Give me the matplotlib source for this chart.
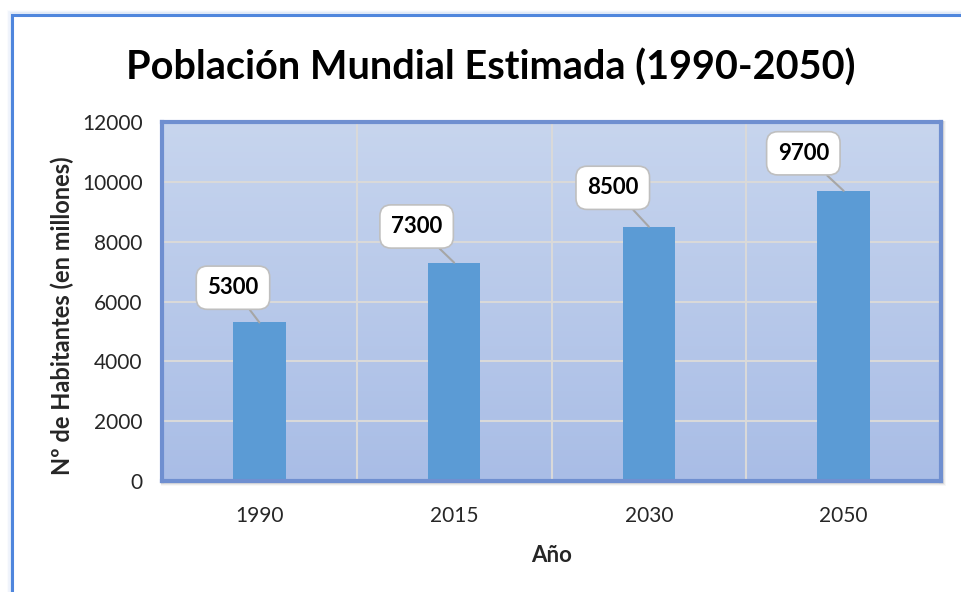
import matplotlib.pyplot as plt
import numpy as np
from matplotlib.patches import Rectangle
from matplotlib.colors import LinearSegmentedColormap

# Data
years = ['1990', '2015', '2030', '2050']
population = [5300, 7300, 8500, 9700]
y_ticks = [0, 2000, 4000, 6000, 8000, 10000, 12000]

# label box offsets in points (placement only)
label_offsets = [(-19, 25), (-27, 26), (-26, 28), (-29, 27)]

plt.rcParams['font.family'] = ['Lato', 'DejaVu Sans']

fig = plt.figure(figsize=(9.61, 5.92), dpi=100)
fig.patch.set_facecolor('white')

# outer chart border (blue line on left/top) with soft shadow
for i, a in enumerate([0.10, 0.06, 0.03]):
    off = (i + 1) * 1.5
    fig.patches.append(Rectangle(((12 - off)/961, -0.2), 1.2, (592 - 15 + off)/592 + 0.2,
                                 transform=fig.transFigure, fill=False, edgecolor='#4f86dd',
                                 alpha=a, linewidth=2, zorder=-2))
fig.patches.append(Rectangle((12/961, -0.2), 1.2, (592-15)/592 + 0.2, transform=fig.transFigure,
                             fill=False, edgecolor='#4f86dd', linewidth=2.2, zorder=-2))

ax_pos = [162/961, (592-481)/592, 779/961, 359/592]

# shadow behind plot area
for i, a in enumerate([0.12, 0.08, 0.05, 0.03]):
    d = (i + 2) / 961
    dy = (i + 2) / 592
    fig.patches.append(Rectangle((ax_pos[0] - d * 0.3, ax_pos[1] - dy), ax_pos[2] + d * 1.3,
                                 ax_pos[3] + dy * 1.3, transform=fig.transFigure,
                                 fc='black', ec='none', alpha=a, zorder=-1))

ax = fig.add_axes(ax_pos)
ax.set_zorder(1)

# gradient background
grad = np.linspace(0, 1, 256).reshape(-1, 1)
cmap = LinearSegmentedColormap.from_list('bg', ['#c7d5ee', '#a9bde6'])
ax.imshow(grad, extent=[0, 1, 0, 1], transform=ax.transAxes, cmap=cmap,
          aspect='auto', zorder=0)

x = np.arange(len(years))
ax.bar(x, population, width=0.27, color='#5b9bd5', zorder=3)

ax.set_xlim(-0.5, 3.5)
ax.set_ylim(0, 12000)
ax.set_yticks(y_ticks)
ax.set_xticks(x)
ax.set_xticklabels(years)
ax.set_xticks(x[:-1] + 0.5, minor=True)
ax.grid(True, which='major', axis='y', color='#d9d9d9', linewidth=1.5, zorder=1)
ax.grid(True, which='minor', axis='x', color='#d9d9d9', linewidth=1.5, zorder=1)
ax.tick_params(which='both', length=0)
ax.tick_params(axis='x', pad=18, labelsize=15, labelcolor='#262626')
ax.tick_params(axis='y', pad=14, labelsize=15, labelcolor='#262626')

for s in ax.spines.values():
    s.set_color('#6f8fd0')
    s.set_linewidth(3)
    s.set_zorder(5)

# data labels with leader lines
for xi, v, off in zip(x, population, label_offsets):
    ax.annotate(str(v), xy=(xi, v), xytext=off, textcoords='offset points',
                ha='center', va='center', fontsize=16, fontweight='bold', color='black',
                bbox=dict(boxstyle='round,pad=0.5', fc='white', ec='#bfbfbf', lw=1.2),
                arrowprops=dict(arrowstyle='-', color='#a6a6a6', lw=1.5,
                                shrinkA=0, shrinkB=0), zorder=6)

ax.set_ylabel('Nº de Habitantes (en millones)', fontsize=17, fontweight='bold',
              color='#262626')
ax.yaxis.set_label_coords(-0.113, 0.46)
ax.set_xlabel('Año', fontsize=16, fontweight='bold', color='#262626', labelpad=14)
fig.text(491/961, 1 - 68/592, 'Población Mundial Estimada (1990-2050)', ha='center', va='center',
         fontsize=28.5, fontweight='bold', color='black')

fig.savefig('out.png', dpi=100)
